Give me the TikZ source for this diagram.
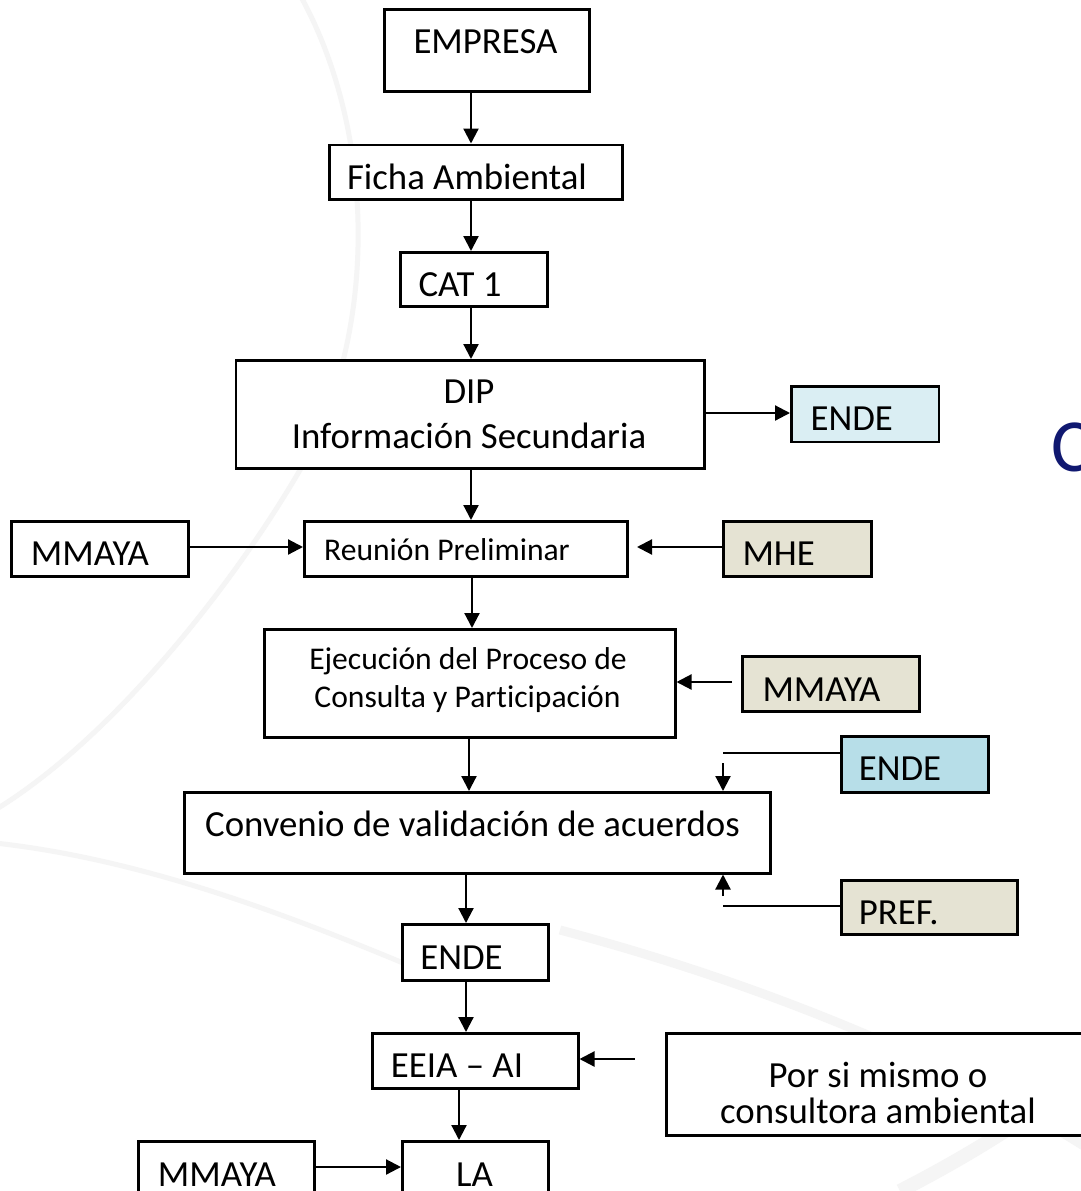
\documentclass[tikz,border=0pt]{standalone}
\usepackage{fontspec}
\setmainfont[Ligatures=NoCommon]{Carlito}
\usetikzlibrary{arrows.meta}
\definecolor{lcyan}{HTML}{DAEEF3}
\definecolor{dcyan}{HTML}{B7DEE8}
\definecolor{beige}{HTML}{E5E3D3}
\definecolor{navy}{RGB}{16,24,112}
\definecolor{swoosh}{RGB}{245,245,245}
\tikzset{
  box/.style={draw=black, line width=2.5pt, fill=white, inner sep=0pt, anchor=north west},
  txt/.style={inner sep=0pt, anchor=base, font=\fontsize{36.8}{43}\selectfont},
  stxt/.style={inner sep=0pt, anchor=base, font=\fontsize{31.6}{37}\selectfont},
  ln/.style={line width=2.2pt},
  arr/.style={line width=2.2pt, -{Triangle[length=15pt,width=15pt]}},
  bg/.style={draw=swoosh, line width=5pt}
}
\begin{document}
\begin{tikzpicture}[x=1pt,y=-1pt]
\useasboundingbox (0,0) rectangle (1081,1191);
\clip (0,0) rectangle (1081,1191);
\fill[white] (0,0) rectangle (1081,1191);
% faint background swooshes
\draw[bg] (300,-5) .. controls (375,130) and (380,330) .. (300,470) .. controls (230,590) and (110,740) .. (-5,810);
\draw[bg] (-5,843) .. controls (150,860) and (300,920) .. (420,970);
\draw[bg, line width=9pt] (560,930) .. controls (750,980) and (950,1060) .. (1090,1150);
\draw[bg, line width=14pt] (900,1191) .. controls (980,1150) and (1040,1110) .. (1090,1070);
% boxes
\node[box, minimum width=205pt, minimum height=81.6pt] (emp) at (383,8.4) {};
\node[box, minimum width=293pt, minimum height=54.5pt] (ficha) at (328,143.5) {};
\node[box, minimum width=147pt, minimum height=54pt] (cat) at (399,251) {};
\node[box, minimum width=468.5pt, minimum height=108pt] (dip) at (234.5,359) {};
\node[box, fill=lcyan, minimum width=147.7pt, minimum height=55.7pt] (ende1) at (790,385) {};
\node[box, minimum width=177pt, minimum height=55pt] (mm1) at (10,520) {};
\node[box, minimum width=323pt, minimum height=55pt] (reu) at (303,520) {};
\node[box, fill=beige, minimum width=147.7pt, minimum height=55pt] (mhe) at (722.3,520) {};
\node[box, minimum width=411pt, minimum height=108pt] (eje) at (263,628) {};
\node[box, fill=beige, minimum width=177pt, minimum height=55pt] (mm2) at (741,655) {};
\node[box, fill=dcyan, minimum width=147pt, minimum height=56pt] (ende2) at (840,735) {};
\node[box, minimum width=586pt, minimum height=81pt] (conv) at (183,791) {};
\node[box, fill=beige, minimum width=176pt, minimum height=54pt] (pref) at (840,879) {};
\node[box, minimum width=146pt, minimum height=56pt] (ende3) at (401,923) {};
\node[box, minimum width=206pt, minimum height=55pt] (eeia) at (371,1032) {};
\node[box, minimum width=426pt, minimum height=102pt] (por) at (665,1032) {};
\node[box, minimum width=176pt, minimum height=56pt] (mm3) at (137,1140) {};
\node[box, minimum width=146pt, minimum height=56pt] (la) at (401,1140) {};
% texts
\node[txt] (emp-t) at (485.5,53.6) {EMPRESA};
\node[txt] (ficha-t) at (467,189.4) {Ficha Ambiental};
\node[txt] (cat-t) at (460,296.6) {CAT 1};
\node[txt] (dip-t1) at (469,403.7) {DIP};
\node[txt] (dip-t2) at (469,448.5) {Información Secundaria};
\node[txt] (ende1-t) at (851.7,430.7) {ENDE};
\node[txt] (mm1-t) at (90,565.6) {MMAYA};
\node[stxt] (reu-t) at (447,560.7) {Reunión Preliminar};
\node[txt] (mhe-t) at (778.7,565) {MHE};
\node[stxt] (eje-t1) at (468,669) {Ejecución del Proceso de};
\node[stxt] (eje-t2) at (467.5,707) {Consulta y Participación};
\node[txt] (mm2-t) at (821.5,701) {MMAYA};
\node[txt] (ende2-t) at (900,780) {ENDE};
\node[txt] (conv-t) at (472.5,836) {Convenio de validación de acuerdos};
\node[txt] (pref-t) at (898.7,924.3) {PREF.};
\node[txt] (ende3-t) at (461.5,969) {ENDE};
\node[txt] (eeia-t) at (457,1077.3) {EEIA – AI};
\node[txt] (por-t1) at (878,1087.7) {Por si mismo o};
\node[txt] (por-t2) at (878,1123.3) {consultora ambiental};
\node[txt] (mm3-t) at (217,1186) {MMAYA};
\node[txt] (la-t) at (474.5,1186) {LA};
\node[inner sep=0pt, anchor=base west, text=navy, font=\fontsize{75}{80}\selectfont] (title) at (1051,471.7) {C};
% connectors
\draw[arr] (emp.south -| 471,0) -- (ficha.north -| 471,0);
\draw[arr] (ficha.south -| 471,0) -- (cat.north -| 471,0);
\draw[arr] (cat.south -| 471,0) -- (dip.north -| 471,0);
\draw[arr] (dip.east |- 0,413) -- (ende1.west |- 0,413);
\draw[arr] (dip.south -| 471,0) -- (reu.north -| 471,0);
\draw[arr] (mm1.east |- 0,547) -- (reu.west |- 0,547);
\draw[arr, shorten >=8.5pt] (mhe.west |- 0,547) -- (reu.east |- 0,547);
\draw[arr] (reu.south -| 472,0) -- (eje.north -| 472,0);
\draw[arr, shorten <=9pt] (mm2.west |- 0,682) -- (eje.east |- 0,682);
\draw[arr] (eje.south -| 469,0) -- (conv.north -| 469,0);
\coordinate (e2c) at (723,753);
\coordinate (e2a) at (723,763);
\draw[ln] (ende2.west |- e2c) -- (e2c);
\draw[arr] (e2a) -- (conv.north -| e2a);
\coordinate (pc) at (723,906);
\coordinate (pa) at (723,896);
\draw[ln] (pref.west |- pc) -- (pc);
\draw[arr] (pa) -- (conv.south -| pa);
\draw[arr] (conv.south -| 466,0) -- (ende3.north -| 466,0);
\draw[arr] (ende3.south -| 466,0) -- (eeia.north -| 466,0);
\draw[arr, shorten <=30.5pt] (por.west |- 0,1059) -- (eeia.east |- 0,1059);
\draw[arr] (eeia.south -| 459,0) -- (la.north -| 459,0);
\draw[arr] (mm3.east |- 0,1167) -- (la.west |- 0,1167);
\end{tikzpicture}
\end{document}
